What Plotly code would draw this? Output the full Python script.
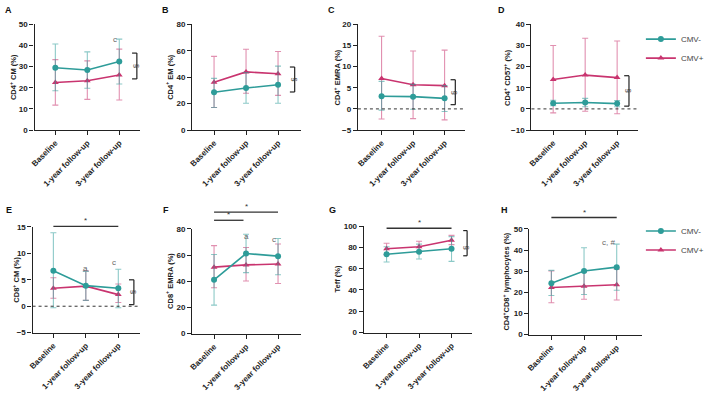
import plotly.graph_objects as go

categories = ["Baseline", "1-year follow-up", "3-year follow-up"]

# ---- Panel A: CD4+ CM ----
a_neg = [29.5, 28.4, 32.4]
a_neg_lo = [18.6, 19.8, 21.8]
a_neg_hi = [40.7, 37.0, 43.0]
a_pos = [22.5, 23.3, 26.0]
a_pos_lo = [11.8, 14.5, 14.2]
a_pos_hi = [33.3, 32.7, 38.3]

# ---- Panel B: CD4+ EM ----
b_neg = [28.6, 31.8, 34.3]
b_neg_lo = [17.1, 20.3, 20.3]
b_neg_hi = [39.1, 43.5, 48.4]
b_pos = [36.2, 44.0, 42.6]
b_pos_lo = [17.1, 27.9, 26.2]
b_pos_hi = [55.8, 61.2, 59.4]

# ---- Panel C: CD4+ EMRA ----
c_neg = [3.0, 2.9, 2.5]
c_neg_lo = [-0.3, -0.1, -0.6]
c_neg_hi = [6.5, 5.8, 5.5]
c_pos = [7.2, 5.7, 5.5]
c_pos_lo = [-2.4, -2.3, -2.6]
c_pos_hi = [17.2, 13.7, 13.9]

# ---- Panel D: CD4+ CD57+ ----
d_neg = [2.7, 3.0, 2.5]
d_neg_lo = [1.5, 1.0, 1.0]
d_neg_hi = [4.1, 5.0, 4.0]
d_pos = [13.9, 16.0, 14.8]
d_pos_lo = [-1.9, -1.1, -2.3]
d_pos_hi = [30.0, 33.4, 32.1]

# ---- Panel E: CD8+ CM ----
e_neg = [6.7, 3.9, 3.4]
e_neg_lo = [-0.3, 1.1, -0.3]
e_neg_hi = [13.9, 6.6, 7.0]
e_pos = [3.4, 3.8, 2.2]
e_pos_lo = [1.5, 1.1, 0.7]
e_pos_hi = [5.4, 6.7, 4.2]

# ---- Panel F: CD8+ EMRA ----
f_neg = [41.1, 61.2, 59.2]
f_neg_lo = [21.8, 46.6, 45.0]
f_neg_hi = [60.4, 75.9, 72.7]
f_pos = [50.8, 52.5, 53.2]
f_pos_lo = [35.1, 40.2, 38.3]
f_pos_hi = [67.2, 65.8, 68.5]

# ---- Panel G: Teff ----
g_neg = [73.5, 75.9, 78.7]
g_neg_lo = [66.2, 69.0, 66.8]
g_neg_hi = [80.5, 83.0, 90.0]
g_pos = [78.7, 80.5, 86.6]
g_pos_lo = [73.2, 75.2, 82.5]
g_pos_hi = [83.9, 85.7, 91.2]

# ---- Panel H: CD4+CD8+ lymphocytes ----
h_neg = [24.3, 30.1, 31.9]
h_neg_lo = [18.5, 19.0, 21.0]
h_neg_hi = [30.4, 41.1, 42.8]
h_pos = [22.3, 22.9, 23.6]
h_pos_lo = [15.1, 16.7, 16.4]
h_pos_hi = [30.1, 29.5, 31.0]

panel_letters = ["A", "B", "C", "D", "E", "F", "G", "H"]
y_titles = [
    "CD4<sup>+</sup> CM (%)", "CD4<sup>+</sup> EM (%)", "CD4<sup>+</sup> EMRA (%)",
    "CD4<sup>+</sup> CD57<sup>+</sup> (%)", "CD8<sup>+</sup> CM (%)",
    "CD8<sup>+</sup> EMRA (%)", "Teff (%)", "CD4<sup>+</sup>CD8<sup>+</sup> lymphocytes (%)",
]
y_ranges = [[0, 50], [0, 80], [-5, 20], [-10, 40], [-5, 15], [0, 80], [0, 100], [0, 50]]
y_dticks = [10, 20, 5, 10, 5, 20, 20, 10]

series = [
    (a_neg, a_neg_lo, a_neg_hi, a_pos, a_pos_lo, a_pos_hi),
    (b_neg, b_neg_lo, b_neg_hi, b_pos, b_pos_lo, b_pos_hi),
    (c_neg, c_neg_lo, c_neg_hi, c_pos, c_pos_lo, c_pos_hi),
    (d_neg, d_neg_lo, d_neg_hi, d_pos, d_pos_lo, d_pos_hi),
    (e_neg, e_neg_lo, e_neg_hi, e_pos, e_pos_lo, e_pos_hi),
    (f_neg, f_neg_lo, f_neg_hi, f_pos, f_pos_lo, f_pos_hi),
    (g_neg, g_neg_lo, g_neg_hi, g_pos, g_pos_lo, g_pos_hi),
    (h_neg, h_neg_lo, h_neg_hi, h_pos, h_pos_lo, h_pos_hi),
]

W, H = 709, 393
# layout geometry in pixels: (x_left, x_right, y_top, y_bottom, x_range)
geom = [
    (31, 138, 21, 130, [-0.65, 2.65]),
    (191, 301, 21, 130, [-0.68, 2.71]),
    (359, 468, 21, 130, [-0.75, 2.66]),
    (535, 643, 21, 130, [-0.68, 2.65]),
    (29, 138, 230, 339, [-0.64, 2.67]),
    (191, 301, 232, 340, [-0.68, 2.71]),
    (365, 475, 229, 339, [-0.70, 2.64]),
    (533, 647, 232, 341, [-0.67, 2.77]),
]
letter_pos = [(5, 6), (164, 6), (332, 6), (505, 6), (5, 212), (164, 212), (333, 212), (508, 212)]
ytitle_x = [9, 168, 338, 510, 12, 168, 338, 509]

TEAL = "#2e9c99"
PINK = "#c9346f"
TEAL_ERR = "rgba(46,156,153,0.55)"
PINK_ERR = "rgba(201,52,111,0.55)"
FONT = "Arial, Liberation Sans, sans-serif"


def dx(i, idx):
    r0, r1 = geom[i][4]
    return (idx - r0) / (r1 - r0)


def dy(i, v):
    y0, y1 = y_ranges[i]
    return (v - y0) / (y1 - y0)


def axs(i):
    return "" if i == 0 else str(i + 1)


fig = go.Figure()
layout = {}
annotations = []
shapes = []

for i in range(8):
    ax = axs(i)
    xl, xr, yt, yb, xrange = geom[i]
    neg, neg_lo, neg_hi, pos, pos_lo, pos_hi = series[i]
    legend_name = "legend" if i == 0 else ("legend2" if i == 4 else None)
    show = legend_name is not None
    for name, m, lo, hi, col, ecol, sym, rank in [
        ("CMV+", pos, pos_lo, pos_hi, PINK, PINK_ERR, "triangle-up", 2),
        ("CMV-", neg, neg_lo, neg_hi, TEAL, TEAL_ERR, "circle", 1),
    ]:
        fig.add_trace(go.Scatter(
            x=categories, y=m, name=name, mode="lines+markers",
            line=dict(color=col, width=1.6),
            marker=dict(symbol=sym, size=6, color=col),
            error_y=dict(type="data", symmetric=False,
                         array=[h - v for h, v in zip(hi, m)],
                         arrayminus=[v - l for v, l in zip(m, lo)],
                         color=ecol, thickness=1.1, width=3),
            xaxis="x" + ax, yaxis="y" + ax,
            showlegend=show, legend=legend_name if show else "legend",
            legendrank=rank,
        ))
    layout["xaxis" + ax] = dict(
        domain=[xl / W, xr / W], anchor="y" + ax, range=xrange,
        type="category", categoryorder="array", categoryarray=categories,
        showline=True, linecolor="#222", linewidth=1.4, ticks="outside",
        ticklen=4, tickwidth=1.2, tickcolor="#222", tickangle=-45,
        tickfont=dict(family=FONT, size=8, color="#222", weight="bold"),
        showgrid=False, zeroline=False, fixedrange=True,
    )
    layout["yaxis" + ax] = dict(
        domain=[1 - yb / H, 1 - yt / H], anchor="x" + ax, range=y_ranges[i],
        dtick=y_dticks[i], showline=True, linecolor="#222", linewidth=1.4,
        ticks="outside", ticklen=4, tickwidth=1.2, tickcolor="#222",
        tickfont=dict(family=FONT, size=8, color="#222", weight="bold"),
        showgrid=False, zeroline=False, fixedrange=True,
    )
    annotations.append(dict(
        text="<b>" + panel_letters[i] + "</b>", x=letter_pos[i][0] / W, y=1 - letter_pos[i][1] / H,
        xref="paper", yref="paper", showarrow=False, xanchor="center", yanchor="middle",
        font=dict(family=FONT, size=9, color="#111"),
    ))
    annotations.append(dict(
        text="<b>" + y_titles[i] + "</b>", x=ytitle_x[i] / W, y=1 - (yt + yb) / 2 / H,
        xref="paper", yref="paper", showarrow=False, xanchor="center", yanchor="middle",
        textangle=-90, font=dict(family=FONT, size=7.5, color="#222"),
    ))

# dotted zero lines (panels C, D, E)
for i in [2, 3, 4]:
    ax = axs(i)
    shapes.append(dict(type="line", xref="x" + ax + " domain", yref="y" + ax + " domain",
                       x0=0, x1=1, y0=dy(i, 0), y1=dy(i, 0),
                       line=dict(color="#333", width=1, dash="dot")))

# brackets with § : (panel, x, x_tick_left, y_top, y_bottom)
brackets = [
    (0, 2.55, 2.40, 36.4, 24.2),
    (1, 2.52, 2.37, 47.7, 28.8),
    (2, 2.34, 2.19, 6.9, 1.0),
    (3, 2.37, 2.22, 15.7, 1.3),
    (4, 2.48, 2.33, 5.0, 0.3),
    (6, 2.48, 2.36, 95.7, 72.1),
]
for i, bx, bl, y0, y1 in brackets:
    ax = axs(i)
    xr_, yr_ = "x" + ax + " domain", "y" + ax + " domain"
    ln = dict(color="#222", width=1.2)
    X, XL, Y0, Y1 = dx(i, bx), dx(i, bl), dy(i, y0), dy(i, y1)
    shapes.append(dict(type="line", xref=xr_, yref=yr_, x0=X, x1=X, y0=Y0, y1=Y1, line=ln))
    shapes.append(dict(type="line", xref=xr_, yref=yr_, x0=XL, x1=X, y0=Y0, y1=Y0, line=ln))
    shapes.append(dict(type="line", xref=xr_, yref=yr_, x0=XL, x1=X, y0=Y1, y1=Y1, line=ln))
    annotations.append(dict(text="§", xref=xr_, yref=yr_, x=X, y=(Y0 + Y1) / 2,
                            xshift=6, showarrow=False, textangle=90,
                            font=dict(family=FONT, size=8, color="#333")))

# significance lines with stars: (panel, x0, x1, y)
sig_lines = [
    (4, 0, 2, 15.1),
    (5, 0, 2, 92.8),
    (5, 0, 0.92, 86.6),
    (6, 0, 2, 97.9),
    (7, 0, 2, 55.4),
]
for i, x0, x1, y in sig_lines:
    ax = axs(i)
    xr_, yr_ = "x" + ax + " domain", "y" + ax + " domain"
    shapes.append(dict(type="line", xref=xr_, yref=yr_, x0=dx(i, x0), x1=dx(i, x1),
                       y0=dy(i, y), y1=dy(i, y), line=dict(color="#333", width=1.3)))
    annotations.append(dict(text="*", xref=xr_, yref=yr_, x=dx(i, (x0 + x1) / 2), y=dy(i, y),
                            yanchor="bottom", yshift=-1, showarrow=False,
                            font=dict(family=FONT, size=8, color="#333")))

# letter annotations above points
letters = [
    (0, 2, 45.8, "c"),
    (4, 1, 8.4, "a"),
    (4, 2, 8.2, "c"),
    (5, 1, 79.3, "a"),
    (5, 2, 76.6, "c"),
    (7, 2, 46.8, "c, #"),
]
for i, xi, y, t in letters:
    ax = axs(i)
    annotations.append(dict(text=t, xref="x" + ax + " domain", yref="y" + ax + " domain",
                            x=dx(i, xi), y=dy(i, y),
                            showarrow=False, font=dict(family=FONT, size=8, color="#666")))

fig.update_layout(
    width=W, height=H, margin=dict(l=0, r=0, t=0, b=0),
    paper_bgcolor="white", plot_bgcolor="white",
    font=dict(family=FONT, size=8, color="#222"),
    annotations=annotations, shapes=shapes,
    legend=dict(x=646 / W, y=1 - 46 / H, xanchor="left", yanchor="middle",
                font=dict(family=FONT, size=8, color="#444"), tracegroupgap=0,
                bgcolor="rgba(0,0,0,0)", itemwidth=30),
    legend2=dict(x=646 / W, y=1 - 244 / H, xanchor="left", yanchor="middle",
                 font=dict(family=FONT, size=8, color="#444"), tracegroupgap=0,
                 bgcolor="rgba(0,0,0,0)", itemwidth=30),
    **layout,
)

fig.write_html("out.html")
